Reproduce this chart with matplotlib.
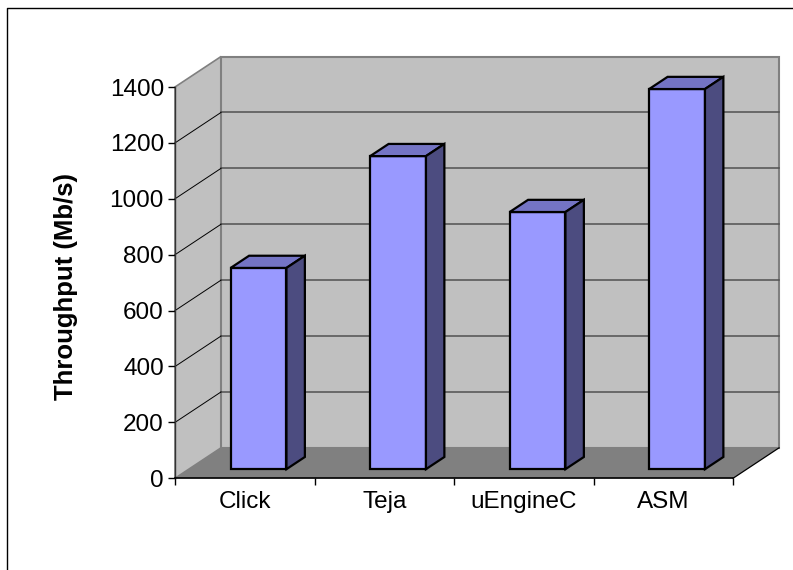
import matplotlib
matplotlib.use('Agg')
import matplotlib.pyplot as plt
from matplotlib.patches import Polygon
from matplotlib.lines import Line2D

# Data
categories = ['Click', 'Teja', 'uEngineC', 'ASM']
throughput = [720, 1120, 920, 1360]
y_ticks = [0, 200, 400, 600, 800, 1000, 1200, 1400]

# Oblique "3D" look: depth offset in data units (categories / Mb/s)
DX = 0.33
DY = 109
bar_w = 0.4
z_front, z_back = 0.3, 0.7

wall_col = '#C0C0C0'
floor_col = '#808080'
face_col = '#9999FF'
top_col = '#7474C4'
side_col = '#4C4C80'

plt.rcParams['font.family'] = ['Liberation Sans', 'DejaVu Sans']

def proj(x, y, z):
    return (x + z * DX, y + z * DY)

def poly(ax, pts, **kw):
    p = Polygon([proj(*p) for p in pts], closed=True, clip_on=False, **kw)
    ax.add_patch(p)

fig = plt.figure(figsize=(7.93, 5.70), dpi=100)
W, H = 793, 570
ax = fig.add_axes([175 / W, 1 - 478.3 / H, (733 - 175) / W, (478.3 - 87) / H])
n = len(categories)
ymax = y_ticks[-1]
ax.set_xlim(0, n)
ax.set_ylim(0, ymax)
ax.patch.set_visible(False)

# side wall, back wall, floor
poly(ax, [(0, 0, 0), (0, 0, 1), (0, ymax, 1), (0, ymax, 0)],
     facecolor=wall_col, edgecolor='#808080', linewidth=1.2, zorder=0.5)
poly(ax, [(0, 0, 1), (n, 0, 1), (n, ymax, 1), (0, ymax, 1)],
     facecolor=wall_col, edgecolor='#808080', linewidth=1.5, zorder=0.5)
poly(ax, [(0, 0, 0), (n, 0, 0), (n, 0, 1), (0, 0, 1)],
     facecolor=floor_col, edgecolor='none', zorder=0.6)

# gridlines
for v in y_ticks[1:-1]:
    x0, y0 = proj(0, v, 1)
    x1, y1 = proj(n, v, 1)
    ax.plot([x0, x1], [y0, y1], color='#505050', linewidth=1.1, zorder=0.7, clip_on=False)
    xa, ya = proj(0, v, 0)
    ax.plot([xa, x0], [ya, y0], color='black', linewidth=0.7, zorder=0.7, clip_on=False)

# right floor edge
xa, ya = proj(n, 0, 0)
xb, yb = proj(n, 0, 1)
ax.plot([xa, xb], [ya, yb], color='black', linewidth=0.9, zorder=0.8, clip_on=False)

# bars
for i, v in enumerate(throughput):
    l = i + 0.5 - bar_w / 2
    r = i + 0.5 + bar_w / 2
    kw = dict(edgecolor='black', linewidth=1.6, joinstyle='miter', zorder=2)
    poly(ax, [(l, 0, z_front), (r, 0, z_front), (r, v, z_front), (l, v, z_front)],
         facecolor=face_col, **kw)
    poly(ax, [(l, v, z_front), (r, v, z_front), (r, v, z_back), (l, v, z_back)],
         facecolor=top_col, **kw)
    poly(ax, [(r, 0, z_front), (r, 0, z_back), (r, v, z_back), (r, v, z_front)],
         facecolor=side_col, **kw)

# axes
for s in ['top', 'right']:
    ax.spines[s].set_visible(False)
ax.spines['left'].set_color('#333333')
ax.spines['left'].set_linewidth(1.0)
ax.spines['bottom'].set_color('black')
ax.spines['bottom'].set_linewidth(1.2)

ax.set_yticks(y_ticks)
ax.set_yticklabels([str(t) for t in y_ticks])
ax.tick_params(axis='y', direction='out', length=5, width=1, pad=3, labelsize=17.5)

ax.set_xticks(range(n + 1))
ax.set_xticklabels([])
ax.set_xticks([i + 0.5 for i in range(n)], minor=True)
ax.set_xticklabels(categories, minor=True)
ax.tick_params(axis='x', which='major', direction='out', length=5, width=1)
ax.tick_params(axis='x', which='minor', length=0, pad=9, labelsize=17.5)

fig.text(66 / W, 1 - 286 / H, 'Throughput (Mb/s)', rotation=90, ha='center', va='center',
         fontsize=18.5, fontweight='bold')

# chart area border
fig.add_artist(Line2D([7 / W, 7 / W, 1.01], [-0.01, 1 - 8 / H, 1 - 8 / H],
                      transform=fig.transFigure, color='black', linewidth=1))

fig.savefig('out.png', dpi=100)
